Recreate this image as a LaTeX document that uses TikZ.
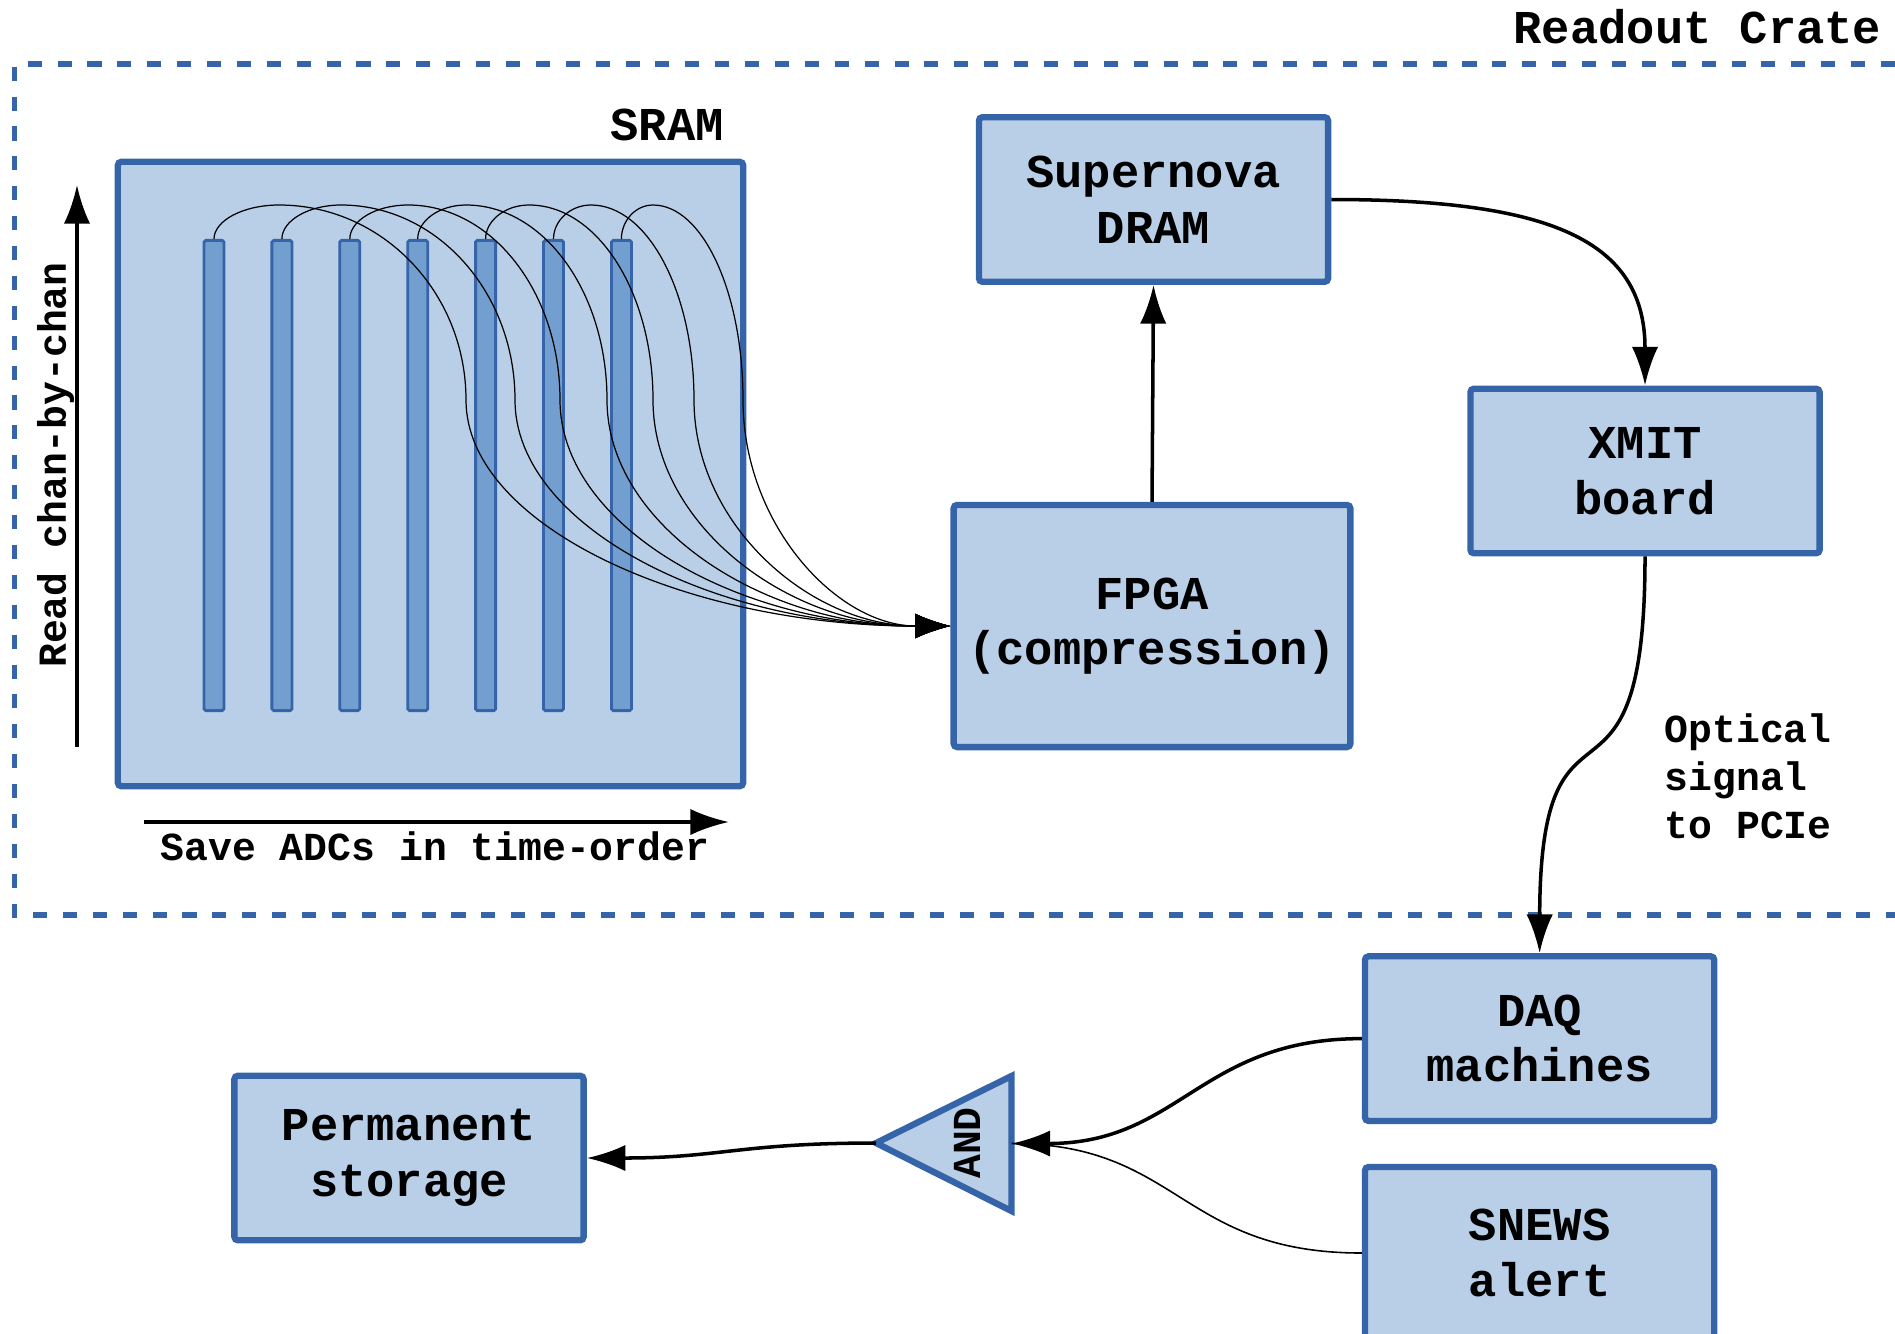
\documentclass[tikz,border=0pt]{standalone}
\usepackage{fontspec}
\setmainfont{Liberation Mono}
\usetikzlibrary{arrows.meta}
\definecolor{bordc}{HTML}{3565A8}
\definecolor{fillc}{HTML}{B8CFE7}
\definecolor{barc}{HTML}{729FCF}
\newcommand{\bxfont}{\fontsize{13.4}{15.8}\selectfont\bfseries}
\newcommand{\smfont}{\fontsize{11.3}{13.7}\selectfont\bfseries}
\begin{document}
\begin{tikzpicture}[x=0.01cm,y=-0.01cm,
  box/.style={draw=bordc, fill=fillc, line width=1.8pt, rounded corners=1pt,
    minimum width=3.49cm, minimum height=1.645cm, align=center, font=\bxfont, inner sep=0pt},
  barbox/.style={draw=bordc, fill=barc, line width=0.8pt, rounded corners=0.5pt,
    minimum width=0.2cm, minimum height=4.7cm, inner sep=0pt},
  lbl/.style={font=\bxfont, inner sep=0pt},
  sml/.style={font=\smfont, inner sep=0pt},
  conn/.style={line width=1pt, -{Latex[length=11pt,width=7.5pt]}},
  fan/.style={line width=0.35pt, -{Latex[length=10pt,width=7pt]}},
  frame/.style={draw=bordc, line width=1.7pt, dash pattern=on 4pt off 4.5pt},
  gate/.style={draw=bordc, fill=fillc, line width=1.8pt}]
\useasboundingbox (0,0) rectangle (1895,1333);

% readout crate frame
\draw[frame] (1895,64) -- (14.5,64) -- (14.5,915) -- (1895,915);
\node[lbl, anchor=east] (crate) at (1882,26.6) {Readout Crate};

% SRAM
\node[box, minimum width=6.25cm, minimum height=6.24cm] (sram) at (430.5,474) {};
\node[lbl] (sramlbl) at (667,124.5) {SRAM};
\foreach \i in {0,...,6}{
  \node[barbox] (b\i) at (214+67.9*\i,475.5) {};
}

% boxes
\node[box] (dram) at (1153.5,199.5) {Supernova\\DRAM};
\node[box, minimum width=3.965cm, minimum height=2.42cm] (fpga) at (1152,626) {FPGA\\(compression)};
\node[box] (xmit) at (1645,471) {XMIT\\board};
\node[box] (daq) at (1539.6,1038.6) {DAQ\\machines};
\node[box, minimum height=1.72cm] (snews) at (1539.6,1253) {SNEWS\\alert};
\node[box] (perm) at (409,1158) {Permanent\\storage};

% AND gate
\draw[gate] (876,1143) -- (1011.5,1076) -- (1011.5,1211) -- cycle;
\coordinate (andW) at (876,1143);
\coordinate (andE) at (1011.5,1143.5);
\node[sml, rotate=90] (andt) at (967,1143) {AND};

% fan of curves from the bars to the FPGA
\foreach \i/\ax/\sx in {0/279/466, 1/341/515, 2/408/560, 3/466/607, 4/529/653, 5/591/694, 6/653/743}{
  \pgfmathsetmacro\bx{214+67.9*\i}
  \draw[fan] (b\i.north) .. controls (\bx,220.7) and ({\ax-0.552*(\ax-\bx)},205) .. (\ax,205)
    .. controls ({\ax+0.552*(\sx-\ax)},205) and (\sx,292.4) .. (\sx,400)
    .. controls (\sx,524.8) and ({953.5-0.552*(953.5-\sx)},626) .. (fpga.west);
}

% axis arrows of SRAM
\coordinate (rcA) at (77,747);
\coordinate (rcB) at (77,185);
\draw[conn] (rcA) -- (rcB);
\node[sml, rotate=90] (rclbl) at (55.6,465) {Read chan-by-chan};
\coordinate (saA) at (144,822);
\coordinate (saB) at (729,822);
\draw[conn] (saA) -- (saB);
\node[sml] (salbl) at (435,846) {Save ADCs in time-order};

% connectors
\draw[conn] (fpga.north) -- (dram.south);
\draw[conn] (dram.east) .. controls (1550,199.5) and (1645,240) .. (xmit.north);
\draw[conn] (xmit.south) .. controls (1645,850) and (1540,660) .. (daq.north);
\node[sml, anchor=west, align=left] (optlbl) at (1664,776) {Optical\\signal\\to PCIe};
\draw[line width=0.45pt] (snews.west) .. controls (1180,1253) and (1180,1143.5) .. (andE);
\draw[conn] (daq.west) .. controls (1200,1038.6) and (1180,1143.5) .. (andE);
\draw[conn] (andW) .. controls (740,1143) and (720,1158) .. (perm.east);
\end{tikzpicture}
\end{document}
